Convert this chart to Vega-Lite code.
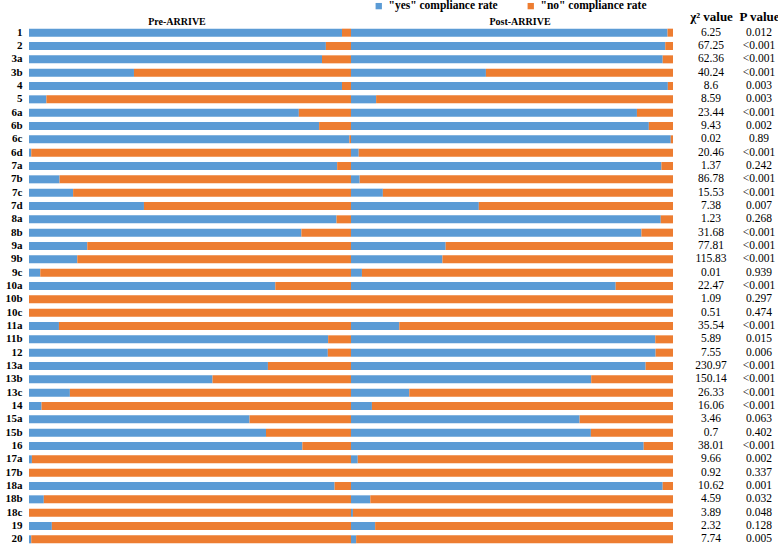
{
  "$schema": "https://vega.github.io/schema/vega-lite/v6.json",
  "padding": {"left": 4, "top": 0, "right": 0, "bottom": 0},
  "bounds": "flush",
  "spacing": 0,
  "config": {"view": {"stroke": null}, "font": "Liberation Serif"},
  "datasets": {
    "bars": [
      {"item": "1", "phase": "Pre", "yes": 97.2, "no": 2.8}, {"item": "1", "phase": "Post", "yes": 98.3, "no": 1.7},
      {"item": "2", "phase": "Pre", "yes": 92.2, "no": 7.8}, {"item": "2", "phase": "Post", "yes": 97.6, "no": 2.4},
      {"item": "3a", "phase": "Pre", "yes": 91.0, "no": 9.0}, {"item": "3a", "phase": "Post", "yes": 96.8, "no": 3.2},
      {"item": "3b", "phase": "Pre", "yes": 32.6, "no": 67.4}, {"item": "3b", "phase": "Post", "yes": 41.9, "no": 58.1},
      {"item": "4", "phase": "Pre", "yes": 97.2, "no": 2.8}, {"item": "4", "phase": "Post", "yes": 98.4, "no": 1.6},
      {"item": "5", "phase": "Pre", "yes": 5.4, "no": 94.6}, {"item": "5", "phase": "Post", "yes": 7.8, "no": 92.2},
      {"item": "6a", "phase": "Pre", "yes": 83.8, "no": 16.2}, {"item": "6a", "phase": "Post", "yes": 88.8, "no": 11.2},
      {"item": "6b", "phase": "Pre", "yes": 90.1, "no": 9.9}, {"item": "6b", "phase": "Post", "yes": 92.5, "no": 7.5},
      {"item": "6c", "phase": "Pre", "yes": 99.5, "no": 0.5}, {"item": "6c", "phase": "Post", "yes": 99.3, "no": 0.7},
      {"item": "6d", "phase": "Pre", "yes": 0.7, "no": 99.3}, {"item": "6d", "phase": "Post", "yes": 2.4, "no": 97.6},
      {"item": "7a", "phase": "Pre", "yes": 95.7, "no": 4.3}, {"item": "7a", "phase": "Post", "yes": 96.4, "no": 3.6},
      {"item": "7b", "phase": "Pre", "yes": 9.5, "no": 90.5}, {"item": "7b", "phase": "Post", "yes": 2.7, "no": 97.3},
      {"item": "7c", "phase": "Pre", "yes": 13.7, "no": 86.3}, {"item": "7c", "phase": "Post", "yes": 9.9, "no": 90.1},
      {"item": "7d", "phase": "Pre", "yes": 35.7, "no": 64.3}, {"item": "7d", "phase": "Post", "yes": 39.7, "no": 60.3},
      {"item": "8a", "phase": "Pre", "yes": 95.5, "no": 4.5}, {"item": "8a", "phase": "Post", "yes": 96.2, "no": 3.8},
      {"item": "8b", "phase": "Pre", "yes": 84.6, "no": 15.4}, {"item": "8b", "phase": "Post", "yes": 90.2, "no": 9.8},
      {"item": "9a", "phase": "Pre", "yes": 18.1, "no": 81.9}, {"item": "9a", "phase": "Post", "yes": 29.4, "no": 70.6},
      {"item": "9b", "phase": "Pre", "yes": 15.0, "no": 85.0}, {"item": "9b", "phase": "Post", "yes": 28.4, "no": 71.6},
      {"item": "9c", "phase": "Pre", "yes": 3.5, "no": 96.5}, {"item": "9c", "phase": "Post", "yes": 3.4, "no": 96.6},
      {"item": "10a", "phase": "Pre", "yes": 76.5, "no": 23.5}, {"item": "10a", "phase": "Post", "yes": 82.2, "no": 17.8},
      {"item": "10b", "phase": "Pre", "yes": 0, "no": 100}, {"item": "10b", "phase": "Post", "yes": 0, "no": 100},
      {"item": "10c", "phase": "Pre", "yes": 0, "no": 100}, {"item": "10c", "phase": "Post", "yes": 0, "no": 100},
      {"item": "11a", "phase": "Pre", "yes": 9.3, "no": 90.7}, {"item": "11a", "phase": "Post", "yes": 15.0, "no": 85.0},
      {"item": "11b", "phase": "Pre", "yes": 92.9, "no": 7.1}, {"item": "11b", "phase": "Post", "yes": 94.5, "no": 5.5},
      {"item": "12", "phase": "Pre", "yes": 92.8, "no": 7.2}, {"item": "12", "phase": "Post", "yes": 94.6, "no": 5.4},
      {"item": "13a", "phase": "Pre", "yes": 74.2, "no": 25.8}, {"item": "13a", "phase": "Post", "yes": 91.5, "no": 8.5},
      {"item": "13b", "phase": "Pre", "yes": 57.0, "no": 43.0}, {"item": "13b", "phase": "Post", "yes": 74.6, "no": 25.4},
      {"item": "13c", "phase": "Pre", "yes": 12.7, "no": 87.3}, {"item": "13c", "phase": "Post", "yes": 18.1, "no": 81.9},
      {"item": "14", "phase": "Pre", "yes": 3.9, "no": 96.1}, {"item": "14", "phase": "Post", "yes": 6.5, "no": 93.5},
      {"item": "15a", "phase": "Pre", "yes": 68.5, "no": 31.5}, {"item": "15a", "phase": "Post", "yes": 71.0, "no": 29.0},
      {"item": "15b", "phase": "Pre", "yes": 73.6, "no": 26.4}, {"item": "15b", "phase": "Post", "yes": 74.5, "no": 25.5},
      {"item": "16", "phase": "Pre", "yes": 84.9, "no": 15.1}, {"item": "16", "phase": "Post", "yes": 90.9, "no": 9.1},
      {"item": "17a", "phase": "Pre", "yes": 0.9, "no": 99.1}, {"item": "17a", "phase": "Post", "yes": 2.1, "no": 97.9},
      {"item": "17b", "phase": "Pre", "yes": 0, "no": 100}, {"item": "17b", "phase": "Post", "yes": 0, "no": 100},
      {"item": "18a", "phase": "Pre", "yes": 94.9, "no": 5.1}, {"item": "18a", "phase": "Post", "yes": 96.8, "no": 3.2},
      {"item": "18b", "phase": "Pre", "yes": 4.6, "no": 95.4}, {"item": "18b", "phase": "Post", "yes": 6.0, "no": 94.0},
      {"item": "18c", "phase": "Pre", "yes": 0, "no": 100}, {"item": "18c", "phase": "Post", "yes": 0.6, "no": 99.4},
      {"item": "19", "phase": "Pre", "yes": 7.1, "no": 92.9}, {"item": "19", "phase": "Post", "yes": 7.5, "no": 92.5},
      {"item": "20", "phase": "Pre", "yes": 0.7, "no": 99.3}, {"item": "20", "phase": "Post", "yes": 1.6, "no": 98.4}
    ],
    "stats": [
      {"item": "1", "chi": "6.25", "p": "0.012"},
      {"item": "2", "chi": "67.25", "p": "<0.001"},
      {"item": "3a", "chi": "62.36", "p": "<0.001"},
      {"item": "3b", "chi": "40.24", "p": "<0.001"},
      {"item": "4", "chi": "8.6", "p": "0.003"},
      {"item": "5", "chi": "8.59", "p": "0.003"},
      {"item": "6a", "chi": "23.44", "p": "<0.001"},
      {"item": "6b", "chi": "9.43", "p": "0.002"},
      {"item": "6c", "chi": "0.02", "p": "0.89"},
      {"item": "6d", "chi": "20.46", "p": "<0.001"},
      {"item": "7a", "chi": "1.37", "p": "0.242"},
      {"item": "7b", "chi": "86.78", "p": "<0.001"},
      {"item": "7c", "chi": "15.53", "p": "<0.001"},
      {"item": "7d", "chi": "7.38", "p": "0.007"},
      {"item": "8a", "chi": "1.23", "p": "0.268"},
      {"item": "8b", "chi": "31.68", "p": "<0.001"},
      {"item": "9a", "chi": "77.81", "p": "<0.001"},
      {"item": "9b", "chi": "115.83", "p": "<0.001"},
      {"item": "9c", "chi": "0.01", "p": "0.939"},
      {"item": "10a", "chi": "22.47", "p": "<0.001"},
      {"item": "10b", "chi": "1.09", "p": "0.297"},
      {"item": "10c", "chi": "0.51", "p": "0.474"},
      {"item": "11a", "chi": "35.54", "p": "<0.001"},
      {"item": "11b", "chi": "5.89", "p": "0.015"},
      {"item": "12", "chi": "7.55", "p": "0.006"},
      {"item": "13a", "chi": "230.97", "p": "<0.001"},
      {"item": "13b", "chi": "150.14", "p": "<0.001"},
      {"item": "13c", "chi": "26.33", "p": "<0.001"},
      {"item": "14", "chi": "16.06", "p": "<0.001"},
      {"item": "15a", "chi": "3.46", "p": "0.063"},
      {"item": "15b", "chi": "0.7", "p": "0.402"},
      {"item": "16", "chi": "38.01", "p": "<0.001"},
      {"item": "17a", "chi": "9.66", "p": "0.002"},
      {"item": "17b", "chi": "0.92", "p": "0.337"},
      {"item": "18a", "chi": "10.62", "p": "0.001"},
      {"item": "18b", "chi": "4.59", "p": "0.032"},
      {"item": "18c", "chi": "3.89", "p": "0.048"},
      {"item": "19", "chi": "2.32", "p": "0.128"},
      {"item": "20", "chi": "7.74", "p": "0.005"}
    ]
  },
  "hconcat": [
    {
      "width": 322,
      "height": 520,
      "data": {"name": "bars"},
      "transform": [
        {"filter": {"field": "phase", "equal": "Pre"}},
        {"fold": ["yes", "no"], "as": ["answer", "rate"]}
      ],
      "title": {"text": "Pre-ARRIVE", "fontSize": 10, "fontWeight": "bold", "font": "Liberation Serif", "color": "#000", "frame": "group", "anchor": "middle", "baseline": "alphabetic", "offset": 3, "dx": -13, "dy": 12},
      "mark": {"type": "bar"},
      "encoding": {
        "y": {"field": "item", "type": "nominal", "sort": null,
              "scale": {"paddingInner": 0.4, "paddingOuter": 0.2},
              "axis": {"title": null, "ticks": false, "domain": false, "labelFontWeight": "bold", "labelFontSize": 11, "labelPadding": 7, "labelColor": "#000", "labelFont": "Liberation Serif"}},
        "x": {"field": "rate", "type": "quantitative", "stack": "normalize", "axis": null, "scale": {"nice": false}},
        "color": {"field": "answer", "type": "nominal",
                  "scale": {"domain": ["yes", "no"], "range": ["#5B9BD5", "#ED7D31"]},
                  "legend": {"orient": "none", "legendX": 344, "legendY": -26, "direction": "horizontal", "title": null, "padding": 0,
                             "symbolType": "square", "symbolSize": 40, "symbolStrokeWidth": 0,
                             "labelExpr": "datum.label == 'yes' ? '\"yes\" compliance rate' : '\"no\" compliance rate'",
                             "labelFont": "Liberation Serif", "labelFontSize": 11.5, "labelFontWeight": "bold", "labelColor": "#000", "columnPadding": 27, "labelOffset": 4}},
        "order": {"field": "answer", "sort": "descending"}
      }
    },
    {
      "width": 322,
      "height": 520,
      "data": {"name": "bars"},
      "transform": [
        {"filter": {"field": "phase", "equal": "Post"}},
        {"fold": ["yes", "no"], "as": ["answer", "rate"]}
      ],
      "title": {"text": "Post-ARRIVE", "fontSize": 10, "fontWeight": "bold", "font": "Liberation Serif", "color": "#000", "frame": "group", "anchor": "middle", "baseline": "alphabetic", "offset": 3, "dx": 8, "dy": 12},
      "mark": {"type": "bar"},
      "encoding": {
        "y": {"field": "item", "type": "nominal", "sort": null,
              "scale": {"paddingInner": 0.4, "paddingOuter": 0.2}, "axis": null},
        "x": {"field": "rate", "type": "quantitative", "stack": "normalize", "axis": null, "scale": {"nice": false}},
        "color": {"field": "answer", "type": "nominal",
                  "scale": {"domain": ["yes", "no"], "range": ["#5B9BD5", "#ED7D31"]},
                  "legend": {"orient": "none", "legendX": 344, "legendY": -26, "direction": "horizontal", "title": null, "padding": 0,
                             "symbolType": "square", "symbolSize": 40, "symbolStrokeWidth": 0,
                             "labelExpr": "datum.label == 'yes' ? '\"yes\" compliance rate' : '\"no\" compliance rate'",
                             "labelFont": "Liberation Serif", "labelFontSize": 11.5, "labelFontWeight": "bold", "labelColor": "#000", "columnPadding": 27, "labelOffset": 4}},
        "order": {"field": "answer", "sort": "descending"}
      }
    },
    {
      "width": 107,
      "height": 520,
      "data": {"name": "stats"},
      "transform": [
        {"fold": ["chi", "p"], "as": ["stat", "val"]}
      ],
      "mark": {"type": "text", "font": "Liberation Serif", "fontSize": 11.5, "color": "#000"},
      "encoding": {
        "y": {"field": "item", "type": "nominal", "sort": null,
              "scale": {"paddingInner": 0.4, "paddingOuter": 0.2}, "axis": null},
        "x": {"field": "stat", "type": "nominal",
              "scale": {"type": "point", "domain": ["chi", "p"], "range": [38, 86], "padding": 0},
              "axis": {"orient": "top", "title": null, "ticks": false, "tickSize": 0, "domain": false, "labelAngle": 0,
                       "labelExpr": "datum.value == 'chi' ? 'χ² value' : 'P value'",
                       "labelFont": "Liberation Serif", "labelFontSize": 13, "labelFontWeight": "bold", "labelColor": "#000", "labelPadding": 3}},
        "text": {"field": "val", "type": "nominal"}
      }
    }
  ]
}
